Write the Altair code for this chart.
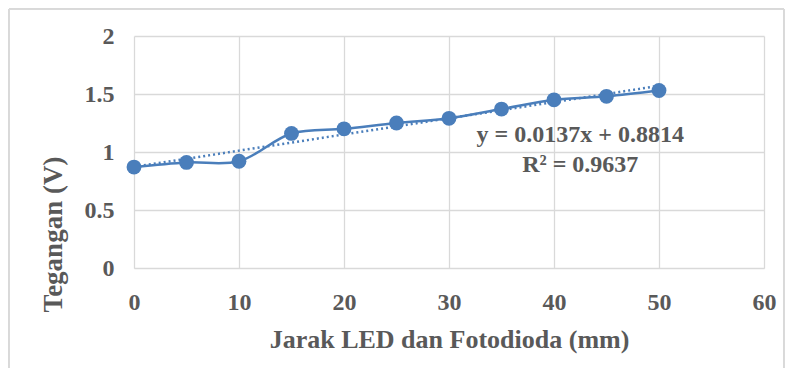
import altair as alt
import pandas as pd

jarak = [0, 5, 10, 15, 20, 25, 30, 35, 40, 45, 50]
tegangan = [0.87, 0.91, 0.92, 1.16, 1.20, 1.25, 1.29, 1.37, 1.45, 1.48, 1.53]
x_ticks = [0, 10, 20, 30, 40, 50, 60]
y_ticks = [0, 0.5, 1, 1.5, 2]
eq_lines = ["y = 0.0137x + 0.8814", "R² = 0.9637"]
eq_x = [42.5, 42.5]
eq_y = [1.147, 0.888]

df = pd.DataFrame({"x": jarak, "y": tegangan})
eq_df = pd.DataFrame({"x": eq_x, "y": eq_y, "t": eq_lines})

BLUE = "#4a7ebb"
GRAY = "#595959"
FONT = "Liberation Serif"

xs = alt.Scale(domain=[0, 60], nice=False)
ys = alt.Scale(domain=[0, 2], nice=False)

xax = alt.Axis(values=x_ticks, grid=True, ticks=False, domain=True, domainColor="#d9d9d9",
               labelFont=FONT, labelFontSize=24, labelFontWeight="bold", labelColor=GRAY,
               labelPadding=22, labelFlush=False, format="~g",
               title="Jarak LED dan Fotodioda (mm)", titleFont=FONT,
               titleFontSize=26, titleFontWeight="bold", titleColor=GRAY, titlePadding=12)
yax = alt.Axis(values=y_ticks, grid=True, ticks=False, domain=False, format="~g",
               labelFont=FONT, labelFontSize=24, labelFontWeight="bold", labelColor=GRAY,
               labelPadding=20, labelFlush=False, title="Tegangan  (V)", titleFont=FONT,
               titleFontSize=27, titleFontWeight="bold", titleColor=GRAY, titleX=-81, titleY=198,
               titleAlign="center", titleBaseline="middle", titleAngle=-90)

base = alt.Chart(df)

trend = base.transform_regression("x", "y", extent=[0, 50]).mark_line(
    color=BLUE, strokeWidth=2.5, strokeDash=[2, 3]
).encode(x=alt.X("x:Q", scale=xs, axis=xax), y=alt.Y("y:Q", scale=ys, axis=yax))

line = base.mark_line(color=BLUE, strokeWidth=2.5, interpolate="catmull-rom").encode(
    x=alt.X("x:Q", scale=xs), y=alt.Y("y:Q", scale=ys))

pts = base.mark_point(filled=True, color=BLUE, size=220, opacity=1).encode(
    x=alt.X("x:Q", scale=xs), y=alt.Y("y:Q", scale=ys))

eq = alt.Chart(eq_df).mark_text(font=FONT, fontSize=24, fontWeight="bold", color=GRAY,
                                 align="center", baseline="middle").encode(
    x=alt.X("x:Q", scale=xs), y=alt.Y("y:Q", scale=ys), text="t:N")

frame = alt.Chart(df).mark_rect(fill=None, stroke="#d9d9d9", strokeWidth=1, clip=False).encode(
    x=alt.value(-125), x2=alt.value(650), y=alt.value(-27), y2=alt.value(400))

chart = alt.layer(frame, trend, line, pts, eq).properties(
    width=630, height=232,
    autosize=alt.AutoSizeParams(type="none"),
    padding={"left": 126, "top": 28, "right": 22, "bottom": 100},
).configure_view(stroke=None).configure_axis(gridColor="#d9d9d9", gridWidth=1.3)

chart.save("out.html", embed_options={"renderer": "svg", "actions": False})
